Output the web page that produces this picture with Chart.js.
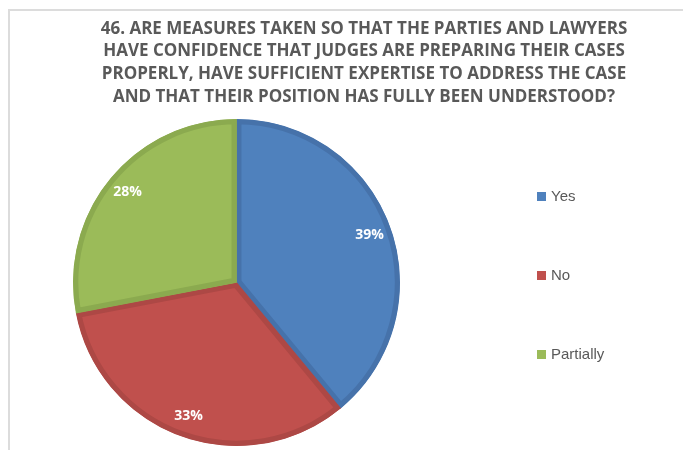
<!DOCTYPE html>
<html>
<head>
<meta charset="utf-8">
<script src="https://cdn.jsdelivr.net/npm/chart.js@4"></script>
<style>
html,body{margin:0;padding:0;background:#fff;}
#wrap{position:relative;width:683px;height:450px;overflow:hidden;}
#frame{position:absolute;left:8px;top:9px;width:800px;height:600px;border-top:2px solid #dcdcdc;border-left:2px solid #dcdcdc;}
canvas{position:absolute;left:0;top:0;}
</style>
</head>
<body>
<div id="wrap"><div id="frame"></div><canvas id="c" width="683" height="450"></canvas></div>
<script>
const titleLines = [
  "46. ARE MEASURES TAKEN SO THAT THE PARTIES AND LAWYERS",
  "HAVE CONFIDENCE THAT JUDGES ARE PREPARING THEIR CASES",
  "PROPERLY, HAVE SUFFICIENT EXPERTISE TO ADDRESS THE CASE",
  "AND THAT THEIR POSITION HAS FULLY BEEN UNDERSTOOD?"
];
const categories = ["Yes", "No", "Partially"];
const values = [39, 33, 28];
const fillColors = ["#4F81BD", "#C0504D", "#9BBB59"];
const borderColors = ["#4672AA", "#AD4845", "#8BAA4F"];

const overlay = {
  id: 'overlay',
  afterDraw(chart) {
    const ctx = chart.ctx;
    ctx.save();
    // title
    ctx.fillStyle = '#595959';
    ctx.font = 'bold 17px "Liberation Sans Narrow", "Open Sans", sans-serif';
    ctx.textAlign = 'center';
    ctx.textBaseline = 'middle';
    titleLines.forEach((t, i) => ctx.fillText(t, 364, 29 + i * 22.6));
    // data labels
    const meta = chart.getDatasetMeta(0);
    const total = values.reduce((a, b) => a + b, 0);
    ctx.fillStyle = '#ffffff';
    ctx.font = 'bold 14px "Open Sans", sans-serif';
    meta.data.forEach((arc, i) => {
      const p = arc.getProps(['x', 'y', 'startAngle', 'endAngle', 'outerRadius'], true);
      const mid = (p.startAngle + p.endAngle) / 2;
      const r = p.outerRadius * 0.865;
      ctx.fillText(Math.round(values[i] / total * 100) + '%', p.x + Math.cos(mid) * r, p.y + Math.sin(mid) * r);
    });
    // legend
    ctx.font = '15px "Liberation Sans", sans-serif';
    ctx.textAlign = 'left';
    const ys = [197, 276, 355];
    categories.forEach((c, i) => {
      ctx.fillStyle = fillColors[i];
      ctx.fillRect(537, ys[i] - 5, 9, 9);
      ctx.fillStyle = '#595959';
      ctx.fillText(c, 551, ys[i]);
    });
    ctx.restore();
  }
};

new Chart(document.getElementById('c'), {
  type: 'pie',
  data: {
    labels: categories,
    datasets: [{
      data: values,
      backgroundColor: fillColors,
      borderColor: borderColors,
      borderWidth: 5,
      borderAlign: 'inner'
    }]
  },
  options: {
    responsive: false,
    animation: false,
    layout: { padding: { left: 73, right: 283, top: 118, bottom: 3 } },
    plugins: { legend: { display: false }, title: { display: false }, tooltip: { enabled: false } }
  },
  plugins: [overlay]
});
</script>
</body>
</html>
